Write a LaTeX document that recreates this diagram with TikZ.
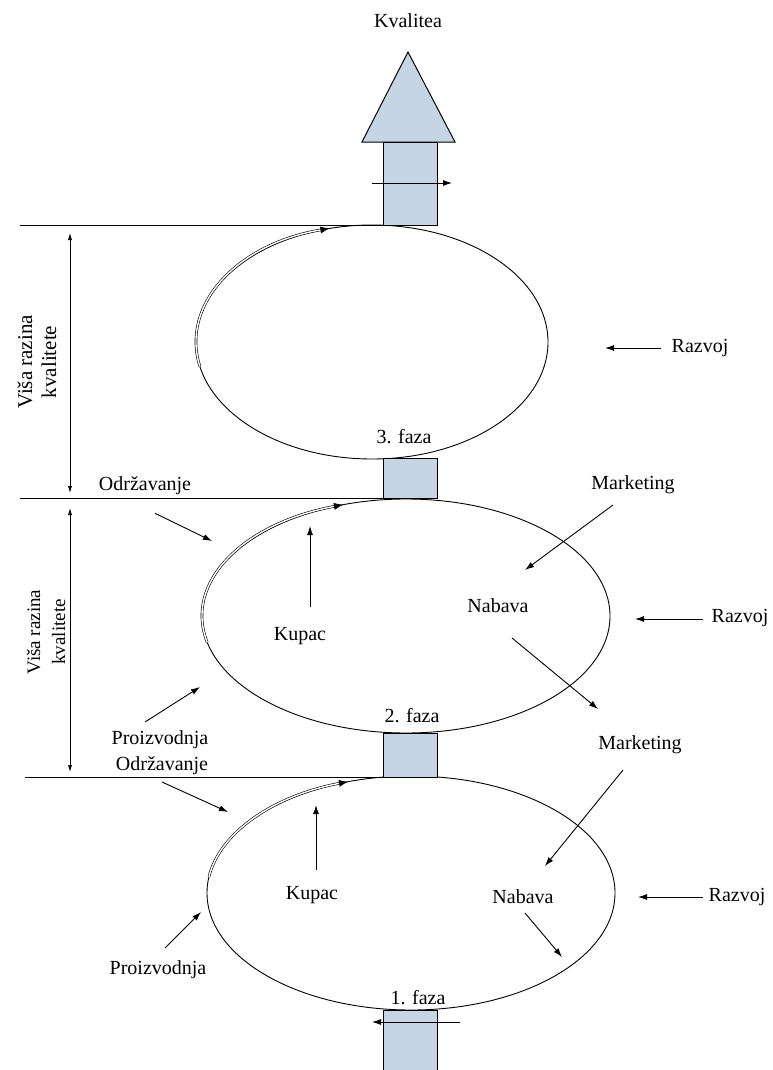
\documentclass[tikz,border=0pt]{standalone}
\usepackage{fontspec}
\setmainfont{Liberation Serif}
\usepackage{tikz}
\usetikzlibrary{arrows.meta}

\definecolor{shaftblue}{RGB}{197,213,228}
\tikzset{
  shaft/.style={draw, fill=shaftblue, line width=1pt},
  lbl/.style={font=\fontsize{20}{23}\selectfont, inner sep=0pt},
  flow/.style={-{Latex[length=9pt,width=6pt]}, line width=0.9pt},
  loopflow/.style={-{Latex[length=9pt,width=7pt]}, double, double distance=1.4pt, line width=0.6pt},
  level/.style={line width=1pt}
}

\begin{document}
\begin{tikzpicture}[x=1pt,y=-1pt]
    \useasboundingbox (0,0) rectangle (772,1070);

    \coordinate (c3) at (372,342);
    \coordinate (c2) at (406,616);
    \coordinate (c1) at (411,893);

    \draw[line width=0.9pt] (c3) ellipse [x radius=176pt, y radius=117pt];
    \draw[line width=0.9pt] (c2) ellipse [x radius=204pt, y radius=117pt];
    \draw[line width=0.9pt] (c1) ellipse [x radius=204pt, y radius=117pt];

    \draw[loopflow] (c3) ++(192:176pt and 117pt) arc[start angle=192, end angle=104, x radius=176pt, y radius=117pt];
    \draw[loopflow] (c2) ++(193:204pt and 117pt) arc[start angle=193, end angle=108, x radius=204pt, y radius=117pt];
    \draw[loopflow] (c1) ++(172:204pt and 117pt) arc[start angle=172, end angle=108, x radius=204pt, y radius=117pt];

    \draw[shaft] (362,142) -- (455,142) -- (408,52) -- cycle;
    \draw[shaft] (383,142) rectangle (437,225);
    \draw[shaft] (383,458) rectangle (437,498);
    \draw[shaft] (383,733) rectangle (437,777);
    \draw[shaft] (383,1010) rectangle (437,1075);

    \draw[level] (20,225) -- (383,225);
    \draw[level] (20,498) -- (383,498);
    \draw[level] (25,777) -- (383,777);
    \draw[{Latex[length=7pt,width=4pt]}-{Latex[length=7pt,width=4pt]}, line width=0.7pt] (70,233) -- (70,493);
    \draw[{Latex[length=7pt,width=4pt]}-{Latex[length=7pt,width=4pt]}, line width=0.7pt] (70,508) -- (70,772);

    \node[lbl] (kval) at (408,21) {Kvalitea};
    \node[lbl] (faza3) at (404,437) {3. faza};
    \node[lbl] (faza2) at (412,716) {2. faza};
    \node[lbl] (faza1) at (418,998) {1. faza};
    \node[lbl, rotate=90, align=center, font=\fontsize{21}{24}\selectfont] (visa3) at (37,362) {Viša razina\\kvalitete};
    \node[lbl, rotate=90, align=center, font=\fontsize{19}{25}\selectfont] (visa2) at (46,632) {Viša razina\\kvalitete};

    \node[lbl] (razvoj3) at (700,348) {Razvoj};
    \node[lbl] (odrz2) at (145,486) {Održavanje};
    \node[lbl] (mark2) at (633,485) {Marketing};
    \node[lbl] (kupac2) at (300,636) {Kupac};
    \node[lbl] (nabava2) at (498,606) {Nabava};
    \node[lbl] (razvoj2) at (740,618) {Razvoj};
    \node[lbl] (proiz2) at (160,740) {Proizvodnja};
    \node[lbl] (odrz1) at (162,766) {Održavanje};
    \node[lbl] (mark1) at (640,745) {Marketing};
    \node[lbl] (kupac1) at (312,895) {Kupac};
    \node[lbl] (nabava1) at (523,897) {Nabava};
    \node[lbl] (razvoj1) at (737,897) {Razvoj};
    \node[lbl] (proiz1) at (158,970) {Proizvodnja};

    \coordinate (up3a) at (372,183);  \coordinate (up3b) at (452,183);
    \coordinate (rz3) at (605,348);
    \coordinate (od2) at (212,541);
    \coordinate (ku2) at (310,526);
    \coordinate (mk2a) at (613,505);  \coordinate (mk2b) at (525,570);
    \coordinate (nb2a) at (512,638);  \coordinate (nb2b) at (598,709);
    \coordinate (rz2) at (635,619);
    \coordinate (pr2a) at (145,722);  \coordinate (pr2b) at (200,687);
    \coordinate (od1a) at (162,782);  \coordinate (od1b) at (228,812);
    \coordinate (ku1) at (316,805);
    \coordinate (mk1a) at (623,770);  \coordinate (mk1b) at (545,866);
    \coordinate (nb1a) at (525,913);  \coordinate (nb1b) at (562,957);
    \coordinate (rz1) at (638,897);
    \coordinate (pr1a) at (165,948);  \coordinate (pr1b) at (201,912);
    \coordinate (dn1a) at (460,1022); \coordinate (dn1b) at (372,1022);

    \draw[flow] (up3a) -- (up3b);
    \draw[flow] (razvoj3.west) ++(-10,0) -- (rz3);
    \draw[flow] (odrz2.south) ++(10,18) -- (od2);
    \draw[flow] (kupac2.north) ++(10,-20) -- (ku2);
    \draw[flow] (mk2a) -- (mk2b);
    \draw[flow] (nb2a) -- (nb2b);
    \draw[flow] (razvoj2.west) ++(-8,1) -- (rz2);
    \draw[flow] (pr2a) -- (pr2b);
    \draw[flow] (od1a) -- (od1b);
    \draw[flow] (kupac1.north) ++(4,-16) -- (ku1);
    \draw[flow] (mk1a) -- (mk1b);
    \draw[flow] (nb1a) -- (nb1b);
    \draw[flow] (razvoj1.west) ++(-5,0) -- (rz1);
    \draw[flow] (pr1a) -- (pr1b);
    \draw[flow] (dn1a) -- (dn1b);
\end{tikzpicture}
\end{document}
